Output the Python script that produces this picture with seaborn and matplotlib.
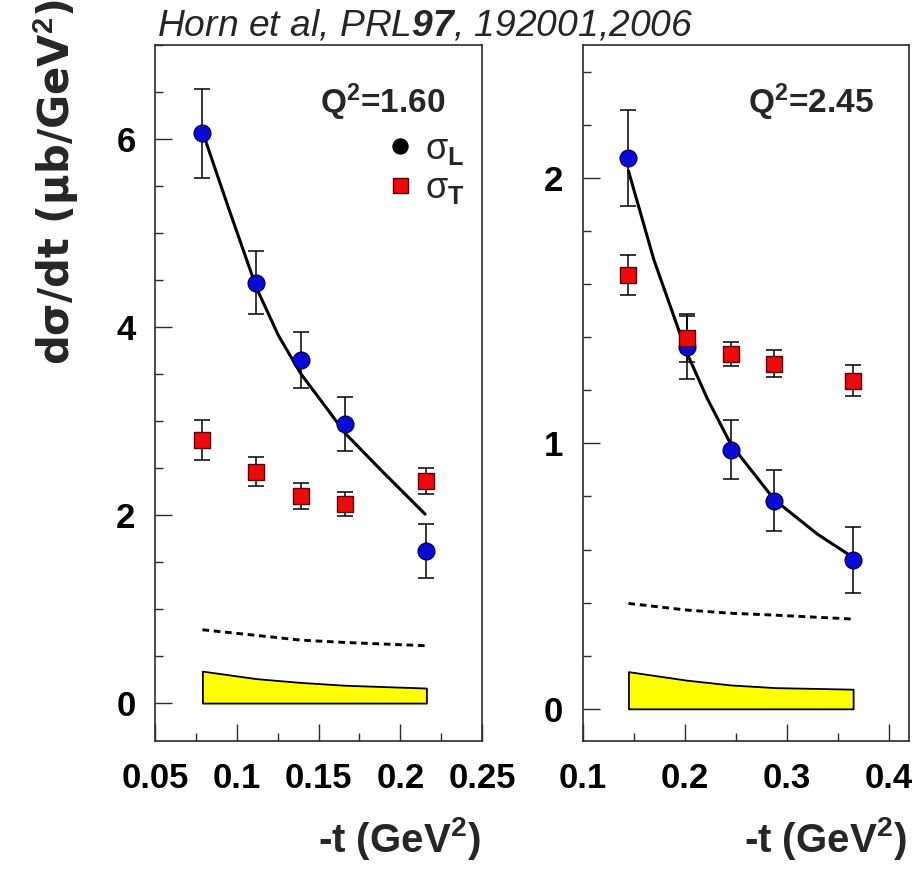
import matplotlib
matplotlib.use("Agg")
import matplotlib.pyplot as plt
import seaborn as sns
from matplotlib.lines import Line2D
from matplotlib.ticker import MultipleLocator

# ---- Q^2 = 1.60 GeV^2 ----
t_q160 = [0.079, 0.112, 0.139, 0.166, 0.216]
sigL_q160 = [6.06, 4.47, 3.65, 2.97, 1.62]
sigL_err_q160 = [0.47, 0.335, 0.30, 0.29, 0.29]
sigT_q160 = [2.80, 2.46, 2.20, 2.12, 2.36]
sigT_err_q160 = [0.21, 0.155, 0.14, 0.13, 0.14]
model_t_q160 = [0.0796, 0.0949, 0.1122, 0.1255, 0.1393, 0.1540, 0.1663, 0.1887, 0.2152]
model_L_q160 = [6.05, 5.27, 4.41, 3.91, 3.50, 3.16, 2.87, 2.47, 2.01]
model_T_q160 = [0.78, 0.72, 0.67, 0.645, 0.61]
syst_q160 = [0.34, 0.26, 0.22, 0.19, 0.16]

# ---- Q^2 = 2.45 GeV^2 ----
t_q245 = [0.145, 0.202, 0.245, 0.288, 0.365]
sigL_q245 = [2.075, 1.361, 0.976, 0.784, 0.561]
sigL_err_q245 = [0.18, 0.12, 0.11, 0.114, 0.124]
sigT_q245 = [1.634, 1.396, 1.336, 1.30, 1.235]
sigT_err_q245 = [0.075, 0.09, 0.045, 0.05, 0.058]
model_t_q245 = [0.145, 0.170, 0.202, 0.222, 0.245, 0.288, 0.330, 0.365]
model_L_q245 = [2.026, 1.69, 1.342, 1.17, 0.998, 0.787, 0.658, 0.57]
model_T_q245 = [0.397, 0.372, 0.36, 0.353, 0.338]
syst_q245 = [0.14, 0.108, 0.09, 0.08, 0.074]

# axis ticks
x_ticks_q160 = [0.05, 0.1, 0.15, 0.2, 0.25]
x_labels_q160 = ["0.05", "0.1", "0.15", "0.2", "0.25"]
y_ticks_q160 = [0, 2, 4, 6]
y_labels_q160 = ["0", "2", "4", "6"]
x_ticks_q245 = [0.1, 0.2, 0.3, 0.4]
x_labels_q245 = ["0.1", "0.2", "0.3", "0.4"]
y_ticks_q245 = [0, 1, 2]
y_labels_q245 = ["0", "1", "2"]

BLUE = "#0a0ad8"
BLUE_EDGE = "#00005a"
RED = "#ee0a0a"
RED_EDGE = "#5a0000"
YELLOW = "#ffff00"
FRAME = "#2b2b2b"

sns.set_theme(style="ticks")
plt.rcParams["font.family"] = ["Liberation Sans", "DejaVu Sans"]
plt.rcParams["mathtext.fontset"] = "custom"
plt.rcParams["mathtext.rm"] = "Liberation Sans"
plt.rcParams["mathtext.it"] = "Liberation Sans:italic"
plt.rcParams["mathtext.bf"] = "Liberation Sans:bold"
plt.rcParams["mathtext.sf"] = "Liberation Sans:bold:italic"

W, H = 914, 873
fig = plt.figure(figsize=(W / 100, H / 100), dpi=100)
fig.patch.set_facecolor("white")

bottom = 1 - 740.7 / H
height = 695.7 / H
ax1 = fig.add_axes([155 / W, bottom, 327 / W, height])
ax2 = fig.add_axes([582.5 / W, bottom, 326.8 / W, height])


def draw_panel(ax, t, sL, eL, sT, eT, mt, mL, mT, syst,
               xlim, ylim, xminor, yminor, xt, xl, yt, yl, qlabel):
    ax.set_facecolor("white")
    # systematic band
    ax.fill_between(t, 0, syst, facecolor=YELLOW, edgecolor="black",
                    linewidth=1.3, zorder=1)
    # model curves
    sns.lineplot(x=t, y=mT, ax=ax, color="black", linewidth=2.1,
                 linestyle=(0, (2.3, 1.6)), zorder=2)
    sns.lineplot(x=mt, y=mL, ax=ax, color="black", linewidth=2.2, zorder=3)
    # error bars
    ax.errorbar(t, sL, yerr=eL, fmt="none", ecolor="black", elinewidth=1.1,
                capsize=5.7, capthick=1.1, zorder=4)
    ax.errorbar(t, sT, yerr=eT, fmt="none", ecolor="black", elinewidth=1.1,
                capsize=5.7, capthick=1.1, zorder=4)
    # data points
    sns.scatterplot(x=t, y=sL, ax=ax, marker="o", s=145, color=BLUE,
                    edgecolor=BLUE_EDGE, linewidth=1.0, zorder=5)
    sns.scatterplot(x=t, y=sT, ax=ax, marker="s", s=130, color=RED,
                    edgecolor=RED_EDGE, linewidth=1.0, zorder=6)

    ax.set_xlim(*xlim)
    ax.set_ylim(*ylim)
    ax.set_xticks(xt, xl, fontweight="bold", fontsize=25)
    ax.set_yticks(yt, yl, fontweight="bold", fontsize=25)
    ax.xaxis.set_minor_locator(MultipleLocator(xminor))
    ax.yaxis.set_minor_locator(MultipleLocator(yminor))
    ax.tick_params(which="both", direction="in", top=False, right=False,
                   color=FRAME, width=1.0, labelcolor="black")
    ax.tick_params(which="major", length=12)
    ax.tick_params(which="minor", length=5.8)
    ax.tick_params(axis="x", which="major", pad=15)
    ax.tick_params(axis="y", which="major", pad=14)
    ax.set_xlabel("")
    ax.set_ylabel("")
    for sp in ax.spines.values():
        sp.set_visible(True)
        sp.set_color(FRAME)
        sp.set_linewidth(1.2)
    ax.text(0.505, 0.902, qlabel, transform=ax.transAxes, ha="left",
            va="baseline", fontsize=24, fontweight="bold")


draw_panel(ax1, t_q160, sigL_q160, sigL_err_q160, sigT_q160, sigT_err_q160,
           model_t_q160, model_L_q160, model_T_q160, syst_q160,
           (0.05, 0.25), (-0.4, 7.0), 0.025, 0.5,
           x_ticks_q160, x_labels_q160, y_ticks_q160, y_labels_q160,
           r"Q$^{\mathbf{2}}$=1.60")
draw_panel(ax2, t_q245, sigL_q245, sigL_err_q245, sigT_q245, sigT_err_q245,
           model_t_q245, model_L_q245, model_T_q245, syst_q245,
           (0.1, 0.42), (-0.12, 2.5), 0.05, 0.2,
           x_ticks_q245, x_labels_q245, y_ticks_q245, y_labels_q245,
           r"Q$^{\mathbf{2}}$=2.45")

# legend
handles = [
    Line2D([], [], ls="none", marker="o", ms=10.8, mfc="black", mec="black"),
    Line2D([], [], ls="none", marker="s", ms=10.8, mfc=RED, mec=RED_EDGE, mew=1.0),
]
ax1.legend(handles, [r"σ$_{\mathbf{L}}$", r"σ$_{\mathbf{T}}$"],
           loc="upper left", bbox_to_anchor=(0.705, 0.875), frameon=False,
           fontsize=26, handlelength=0.8, handletextpad=0.3,
           labelspacing=0.1, borderpad=0, borderaxespad=0)

# reference line
fig.text(157 / W, 1 - 35 / H, r"Horn et al, PRL$\mathsf{97}$, 192001,2006",
         ha="left", va="baseline", fontsize=26.8, fontstyle="italic")

# axis titles
fig.text(56 / W, 1 - 182 / H, r"dσ/dt (μb/GeV$^{\mathbf{2}}$)", rotation=90,
         ha="center", va="center", fontsize=30, fontweight="bold",
         family=["DejaVu Sans"])
for right_px in (481, 907):
    fig.text(right_px / W, 1 - 852 / H, r"-t (GeV$^{\mathbf{2}}$)",
             ha="right", va="baseline", fontsize=29, fontweight="bold")

fig.savefig("out.png", dpi=100, facecolor="white")
